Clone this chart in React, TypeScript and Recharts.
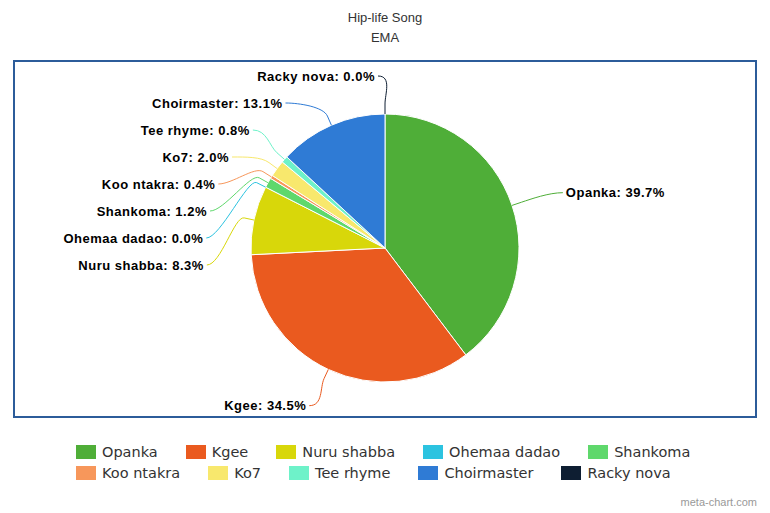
import { PieChart, Pie, Cell } from "recharts";

const names = [
  "Opanka",
  "Kgee",
  "Nuru shabba",
  "Ohemaa dadao",
  "Shankoma",
  "Koo ntakra",
  "Ko7",
  "Tee rhyme",
  "Choirmaster",
  "Racky nova",
];
const shares = [39.7, 34.5, 8.3, 0.0, 1.2, 0.4, 2.0, 0.8, 13.1, 0.0];
const colors = [
  "#4fae38",
  "#ea5a1f",
  "#d8d70a",
  "#2cc3e0",
  "#5fd86c",
  "#f7975b",
  "#f8e86d",
  "#6ef2c9",
  "#2f7bd5",
  "#0e1e32",
];
const titleLines = ["Hip-life Song", "EMA"];

const data = names.map((name, i) => ({ name, value: shares[i] }));

const CX = 385;
const CY = 248;
const R = 134;
const SPACING = 27;

type Lbl = { i: number; mid: number; left: boolean; natural: number; y: number };

// spread labels per side like highcharts does
function layoutLabels(): Lbl[] {
  const total = shares.reduce((a, b) => a + b, 0);
  let acc = 0;
  const items: Lbl[] = shares.map((v, i) => {
    const start = (acc / total) * 360;
    acc += v;
    const end = (acc / total) * 360;
    const mid = (start + end) / 2;
    const natural = CY - (R + 40) * Math.cos((mid * Math.PI) / 180);
    return { i, mid, left: mid >= 180, natural, y: natural };
  });
  const minY = CY - R - 38;
  const maxY = CY + R + 40;
  [true, false].forEach((side) => {
    const list = items.filter((d) => d.left === side).sort((a, b) => a.natural - b.natural);
    let clusters = list.map((d) => [d]);
    const place = (c: Lbl[]) => {
      const mean = c.reduce((s, d) => s + d.natural, 0) / c.length;
      let top = mean - ((c.length - 1) / 2) * SPACING;
      if (top < minY) top = minY;
      if (top + (c.length - 1) * SPACING > maxY) top = maxY - (c.length - 1) * SPACING;
      c.forEach((d, k) => (d.y = top + k * SPACING));
    };
    let changed = true;
    while (changed) {
      changed = false;
      clusters.forEach(place);
      for (let k = 0; k < clusters.length - 1; k++) {
        const a = clusters[k];
        const b = clusters[k + 1];
        if (b[0].y - a[a.length - 1].y < SPACING) {
          clusters = [...clusters.slice(0, k), [...a, ...b], ...clusters.slice(k + 2)];
          changed = true;
          break;
        }
      }
    }
  });
  return items;
}

const labels = layoutLabels();

const pt = (mid: number, r: number) => {
  const a = (mid * Math.PI) / 180;
  return { x: CX + r * Math.sin(a), y: CY - r * Math.cos(a) };
};

const renderLabel = (props: any) => {
  const l = labels[props.index];
  if (!l) return null;
  const dy = l.y - CY;
  const LR = R + 38;
  const h = Math.sqrt(Math.max(0, LR * LR - dy * dy));
  const tx = l.left ? CX - h - 10 : CX + h + 18;
  const dir = l.left ? 1 : -1;
  const base = pt(l.mid, R);
  const brk = pt(l.mid, R + 10);
  const c2 = pt(l.mid, R + 20);
  const ax = tx + dir * 3;
  const d = `M ${ax} ${l.y} C ${ax + dir * 14} ${l.y} ${c2.x} ${c2.y} ${brk.x} ${brk.y} L ${base.x} ${base.y}`;
  return (
    <g key={`lbl-${props.index}`}>
      <path d={d} fill="none" stroke={colors[l.i]} strokeWidth={1} />
      <text
        x={tx}
        y={l.y}
        textAnchor={l.left ? "end" : "start"}
        dominantBaseline="central"
        fontFamily="'Liberation Sans', Arial, sans-serif"
        fontSize={13}
        letterSpacing={0.5}
        fontWeight="bold"
        fill="#000"
      >
        {`${names[l.i]}: ${shares[l.i].toFixed(1)}%`}
      </text>
    </g>
  );
};

const legendRows = [names.slice(0, 5), names.slice(5)];

export default function App() {
  return (
    <div
      style={{
        position: "absolute",
        left: 0,
        top: 0,
        width: 770,
        height: 513,
        background: "#fff",
        fontFamily: "'Liberation Sans', Arial, sans-serif",
      }}
    >
      {titleLines.map((t, i) => (
        <div
          key={t}
          style={{
            position: "absolute",
            left: 0,
            width: 770,
            top: 10 + i * 20,
            textAlign: "center",
            fontSize: 13,
            lineHeight: "15px",
            color: "#333",
          }}
        >
          {t}
        </div>
      ))}
      <div
        style={{
          position: "absolute",
          left: 13,
          top: 60,
          width: 740,
          height: 354,
          border: "2px solid #2c5c9a",
        }}
      />
      <div style={{ position: "absolute", left: 0, top: 0 }}>
        <PieChart width={770} height={513} margin={{ top: 0, right: 0, bottom: 0, left: 0 }}>
          <Pie
            data={data}
            dataKey="value"
            nameKey="name"
            cx={CX}
            cy={CY}
            outerRadius={R}
            startAngle={90}
            endAngle={-270}
            stroke="#fff"
            strokeWidth={1}
            label={renderLabel}
            labelLine={false}
            isAnimationActive={false}
          >
            {data.map((d, i) => (
              <Cell key={d.name} fill={colors[i]} />
            ))}
          </Pie>
        </PieChart>
      </div>
      <div style={{ position: "absolute", left: 76, top: 441 }}>
        {legendRows.map((row, r) => (
          <div key={r} style={{ display: "flex", height: 21, alignItems: "center" }}>
            {row.map((n) => (
              <div key={n} style={{ display: "flex", alignItems: "center", marginRight: 28 }}>
                <div
                  style={{
                    width: 20,
                    height: 14,
                    background: colors[names.indexOf(n)],
                    marginRight: 6,
                  }}
                />
                <span
                  style={{
                    fontFamily: "'DejaVu Sans', sans-serif",
                    fontSize: 14.5,
                    color: "#333",
                    whiteSpace: "nowrap",
                  }}
                >
                  {n}
                </span>
              </div>
            ))}
          </div>
        ))}
      </div>
      <div
        style={{
          position: "absolute",
          right: 13,
          top: 496,
          fontSize: 11,
          color: "#999",
        }}
      >
        meta-chart.com
      </div>
    </div>
  );
}
